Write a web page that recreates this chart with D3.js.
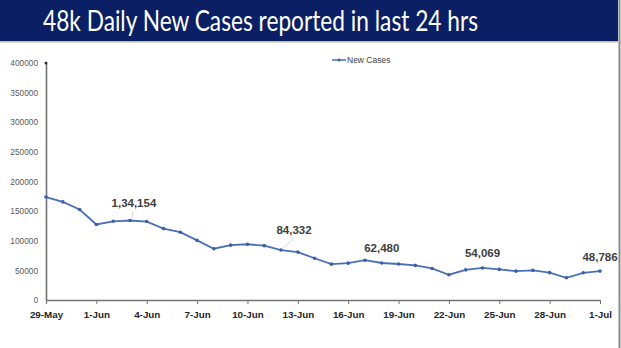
<!DOCTYPE html>
<html><head><meta charset="utf-8">
<script src="https://cdn.jsdelivr.net/npm/d3@7"></script>
<style>body{margin:0;background:#fff;} svg{display:block;}</style>
</head><body>
<svg id="c" width="621" height="348"></svg>
<script>
const title = "48k Daily New Cases reported in last 24 hrs";
const seriesName = "New Cases";
const dates = ["29-May","30-May","31-May","1-Jun","2-Jun","3-Jun","4-Jun","5-Jun","6-Jun","7-Jun","8-Jun","9-Jun","10-Jun","11-Jun","12-Jun","13-Jun","14-Jun","15-Jun","16-Jun","17-Jun","18-Jun","19-Jun","20-Jun","21-Jun","22-Jun","23-Jun","24-Jun","25-Jun","26-Jun","27-Jun","28-Jun","29-Jun","30-Jun","1-Jul"];
const newCases = [173790,165553,152734,127510,132788,134154,132364,120529,114460,100636,86498,92596,94052,91702,84332,80834,70421,60471,62224,67208,62480,60753,58419,53256,42640,50848,54069,51667,48698,50040,46148,37566,45951,48786];
const labeled = [
  {date:"3-Jun", text:"1,34,154", dx:4, dy:-14, leader:true},
  {date:"12-Jun", text:"84,332", dx:13, dy:-16, leader:true},
  {date:"18-Jun", text:"62,480", dx:0, dy:-11, leader:false},
  {date:"24-Jun", text:"54,069", dx:0, dy:-11, leader:false},
  {date:"1-Jul", text:"48,786", dx:0, dy:-10, leader:false}
];
const xTickLabels = ["29-May","1-Jun","4-Jun","7-Jun","10-Jun","13-Jun","16-Jun","19-Jun","22-Jun","25-Jun","28-Jun","1-Jul"];
const yTicks = [0,50000,100000,150000,200000,250000,300000,350000,400000];

const svg = d3.select("#c");
// banner
svg.append("rect").attr("x",0).attr("y",0).attr("width",618).attr("height",41).attr("fill","#0b1f64");
svg.append("rect").attr("x",0).attr("y",41).attr("width",618).attr("height",1.5).attr("fill","#c9b98a");
svg.append("line").attr("x1",619.5).attr("x2",619.5).attr("y1",0).attr("y2",348).attr("stroke","#8a8a8a").attr("stroke-width",2);
svg.append("text").attr("x",43).attr("y",31).attr("fill","#fff")
  .attr("font-family","Lato, 'Open Sans', sans-serif").attr("font-size",28)
  .attr("textLength",435).attr("lengthAdjust","spacingAndGlyphs").text(title);

const x = d3.scalePoint().domain(dates).range([46,600]);
const y = d3.scaleLinear().domain([0,400000]).range([300,63]);

// y axis
const ya = svg.append("g").attr("transform","translate(46,0)")
  .call(d3.axisLeft(y).tickValues(yTicks).tickSize(0).tickPadding(8).tickFormat(d3.format("d")));
ya.select(".domain").attr("stroke","#737373").attr("stroke-width",1.6);
ya.selectAll("text").attr("fill","#595959").attr("font-family","'Liberation Sans', Arial, sans-serif").attr("font-size",8.3);
svg.append("circle").attr("cx",46).attr("cy",y(400000)).attr("r",1.5).attr("fill","#333");

// x axis
const xa = svg.append("g").attr("transform","translate(0,300)")
  .call(d3.axisBottom(x).tickValues(xTickLabels).tickSize(4).tickSizeOuter(0).tickPadding(7));
xa.select(".domain").attr("stroke","#737373").attr("stroke-width",1.6);
xa.selectAll(".tick line").attr("stroke","#737373");
xa.selectAll("text").attr("fill","#262626").attr("font-family","'Liberation Sans', Arial, sans-serif").attr("font-size",9.8).attr("font-weight","bold");

// line
const data = dates.map((d,i)=>({d, v:newCases[i]}));
svg.append("path").datum(data).attr("fill","none").attr("stroke","#4a6fb8").attr("stroke-width",1.8)
  .attr("d", d3.line().x(p=>x(p.d)).y(p=>y(p.v)));
svg.selectAll("circle.pt").data(data).enter().append("circle").attr("class","pt")
  .attr("cx",p=>x(p.d)).attr("cy",p=>y(p.v)).attr("r",1.8).attr("fill","#3d5fa8");

// labels
labeled.forEach(l=>{
  const i = dates.indexOf(l.date);
  const px = x(l.date), py = y(newCases[i]);
  if (l.leader) {
    svg.append("line").attr("x1",px+2).attr("y1",py-2).attr("x2",px+l.dx-1).attr("y2",py+l.dy+5)
      .attr("stroke","#c8c8c8").attr("stroke-width",0.8);
  }
  svg.append("text").attr("x",px+l.dx).attr("y",py+l.dy).attr("text-anchor","middle")
    .attr("fill","#404040").attr("font-family","'Liberation Sans', Arial, sans-serif").attr("font-size",11.5).attr("font-weight","bold")
    .text(l.text);
});

// legend
svg.append("line").attr("x1",332).attr("x2",346).attr("y1",60).attr("y2",60).attr("stroke","#4a6fb8").attr("stroke-width",1.5);
svg.append("circle").attr("cx",339).attr("cy",60).attr("r",1.6).attr("fill","#3d5fa8");
svg.append("text").attr("x",347).attr("y",63).attr("fill","#404040").attr("font-family","'Liberation Sans', Arial, sans-serif").attr("font-size",8.5).text(seriesName);
</script>
</body></html>
